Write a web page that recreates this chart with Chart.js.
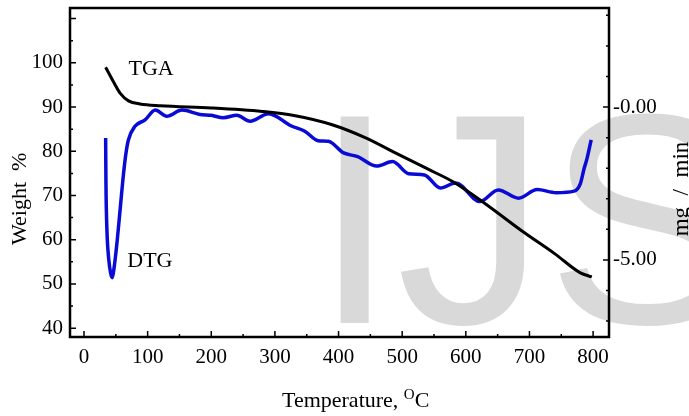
<!DOCTYPE html>
<html>
<head>
<meta charset="utf-8">
<script src="https://cdn.jsdelivr.net/npm/chart.js@4"></script>
<style>
  body { margin: 0; background: #fff; }
</style>
</head>
<body>
<canvas id="c" width="689" height="416"></canvas>
<script>
// TGA curve (left axis, weight %)
const tgaTemp = [34, 46, 57, 70, 88, 120, 200, 280, 330, 390, 440, 490, 540, 580, 630, 690, 740, 780, 798];
const tgaWeight = [99.0, 95.8, 93.1, 91.4, 90.7, 90.3, 89.8, 89.0, 88.1, 86.0, 83.2, 79.6, 76.0, 73.1, 68.2, 61.8, 56.8, 52.5, 51.6];

// DTG curve (right axis, mg / min)
const dtgTemp = [34, 34.5, 36, 39, 42, 44.5, 47, 52, 57, 62, 66, 70, 80, 96, 112, 130, 154, 182, 200, 219, 240,
  261, 290, 326, 347, 368, 384, 408, 430, 460, 485, 510, 535, 560, 584, 622, 651, 683, 712, 742, 770, 780, 786, 790, 797];
const dtgRate = [-1.01, -2.5, -4.0, -5.0, -5.45, -5.58, -5.3, -4.4, -3.3, -2.2, -1.5, -1.06, -0.63, -0.42, -0.10,
  -0.30, -0.10, -0.24, -0.27, -0.35, -0.27, -0.46, -0.22, -0.62, -0.79, -1.10, -1.12, -1.50, -1.62, -1.93, -1.78, -2.18,
  -2.22, -2.65, -2.48, -3.09, -2.71, -2.98, -2.70, -2.80, -2.75, -2.50, -2.0, -1.72, -1.07];

const tempTicks = [0, 100, 200, 300, 400, 500, 600, 700, 800];
const weightTicks = [40, 50, 60, 70, 80, 90, 100];
const rateTicks = [0, -5];

const serif = '"Liberation Serif", "Times New Roman", serif';

const frame = {
  id: 'frame',
  beforeDraw(chart) {
    const ctx = chart.ctx;
    ctx.save();
    ctx.fillStyle = '#d9d9d9';
    ctx.font = '300px "Liberation Sans", Arial, sans-serif';
    ctx.textBaseline = 'alphabetic';
    ctx.fillText('IJS', 313, 323);
    ctx.restore();
  },
  afterDraw(chart) {
    const ctx = chart.ctx;
    const a = chart.chartArea;
    const sx = chart.scales.x, sy = chart.scales.y, sr = chart.scales.y2;
    ctx.save();
    ctx.strokeStyle = '#000';
    ctx.lineWidth = 1.5;
    ctx.beginPath();
    for (let t = 0; t <= 800; t += 50) {
      const px = sx.getPixelForValue(t);
      ctx.moveTo(px, a.bottom);
      ctx.lineTo(px, a.bottom - (t % 100 === 0 ? 6 : 3));
    }
    for (let w = 40; w <= 110; w += 5) {
      const py = sy.getPixelForValue(w);
      ctx.moveTo(a.left, py);
      ctx.lineTo(a.left + (w % 10 === 0 ? 6 : 3), py);
    }
    for (let r = -7; r <= 3; r += 1) {
      const py = sr.getPixelForValue(r);
      ctx.moveTo(a.right, py);
      ctx.lineTo(a.right - (r % 5 === 0 ? 6 : 3), py);
    }
    ctx.stroke();

    ctx.lineWidth = 2.5;
    ctx.strokeRect(a.left, a.top, a.right - a.left, a.bottom - a.top);

    // curve labels
    ctx.fillStyle = '#000';
    ctx.font = '22px ' + serif;
    ctx.textBaseline = 'alphabetic';
    ctx.fillText('TGA', sx.getPixelForValue(70), sy.getPixelForValue(97.2));
    ctx.fillText('DTG', sx.getPixelForValue(68), sy.getPixelForValue(53.8));

    // x title with superscript O
    let x = 282;
    const base = 407;
    ctx.fillText('Temperature, ', x, base);
    x += ctx.measureText('Temperature, ').width;
    ctx.font = '15px ' + serif;
    ctx.fillText('O', x, base - 8);
    x += ctx.measureText('O').width;
    ctx.font = '22px ' + serif;
    ctx.fillText('C', x, base);

    // left title
    ctx.save();
    ctx.translate(26, 245);
    ctx.rotate(-Math.PI / 2);
    ctx.fillText('Weight  %', 0, 0);
    ctx.restore();

    // right title
    ctx.save();
    ctx.translate(688, 189);
    ctx.rotate(-Math.PI / 2);
    ctx.textAlign = 'center';
    ctx.font = '23px ' + serif;
    ctx.fillText('mg  /  min', 0, 0);
    ctx.restore();
    ctx.restore();
  }
};

const noPadY = s => { s.paddingTop = 0; s.paddingBottom = 0; };

new Chart(document.getElementById('c'), {
  type: 'line',
  data: {
    datasets: [
      {
        label: 'TGA',
        data: tgaTemp.map((t, i) => ({ x: t, y: tgaWeight[i] })),
        yAxisID: 'y',
        borderColor: '#000',
        borderWidth: 3,
        pointRadius: 0,
        cubicInterpolationMode: 'monotone'
      },
      {
        label: 'DTG',
        data: dtgTemp.map((t, i) => ({ x: t, y: dtgRate[i] })),
        yAxisID: 'y2',
        borderColor: '#0a0ad6',
        borderWidth: 3.5,
        pointRadius: 0,
        cubicInterpolationMode: 'monotone'
      }
    ]
  },
  options: {
    responsive: false,
    animation: false,
    layout: { padding: { top: 8, left: 0, right: 0, bottom: 0 } },
    plugins: { legend: { display: false }, tooltip: { enabled: false } },
    scales: {
      x: {
        type: 'linear',
        min: -22,
        max: 825,
        grid: { display: false, drawTicks: false },
        border: { display: false },
        afterBuildTicks: s => { s.ticks = tempTicks.map(v => ({ value: v })); },
        afterFit: s => { s.height = 79; s.paddingLeft = 0; s.paddingRight = 0; },
        ticks: { color: '#000', font: { family: serif, size: 21 }, padding: 8, maxRotation: 0 }
      },
      y: {
        position: 'left',
        min: 38,
        max: 112.4,
        grid: { display: false, drawTicks: false },
        border: { display: false },
        afterBuildTicks: s => { s.ticks = weightTicks.map(v => ({ value: v })); },
        afterFit: s => { s.width = 70; noPadY(s); },
        ticks: { color: '#000', font: { family: serif, size: 21 }, padding: 7 }
      },
      y2: {
        position: 'right',
        min: -7.52,
        max: 3.24,
        grid: { display: false, drawTicks: false },
        border: { display: false },
        afterBuildTicks: s => { s.ticks = rateTicks.map(v => ({ value: v })); },
        afterFit: s => { s.width = 80; noPadY(s); },
        ticks: {
          color: '#000', font: { family: serif, size: 21 }, padding: 4,
          callback: v => '-' + Math.abs(v).toFixed(2)
        }
      }
    }
  },
  plugins: [frame]
});
</script>
</body>
</html>
